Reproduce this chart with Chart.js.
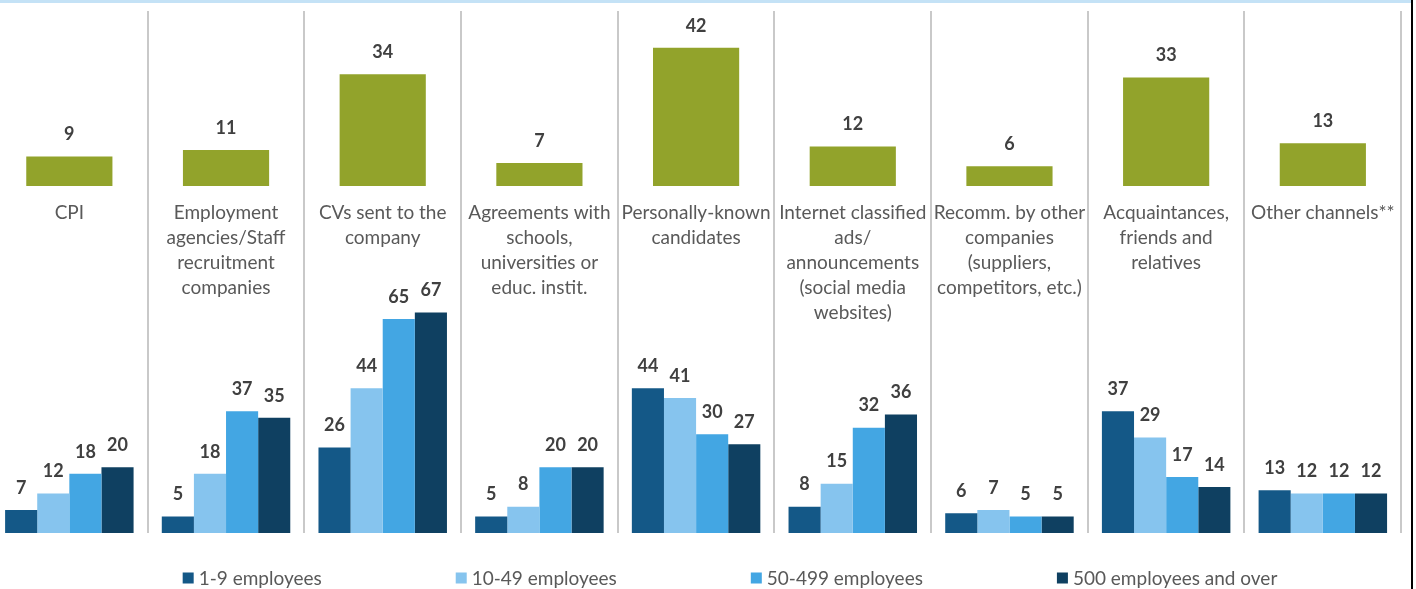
<!DOCTYPE html>
<html>
<head>
<meta charset="utf-8">
<script src="https://cdn.jsdelivr.net/npm/chart.js@4/dist/chart.umd.min.js"></script>
<style>
html, body { margin: 0; padding: 0; background: #ffffff; overflow: hidden; width: 1416px; height: 589px; }
#wrap { position: absolute; left: -9px; top: 0; width: 1418px; height: 589px; }
#band { position: absolute; left: 0; top: 0; width: 1411px; height: 3px; background: #c4e2f6; }
#edge { position: absolute; left: 1411px; top: 0; width: 2px; height: 589px; background: #000000; }
</style>
</head>
<body>
<div id="wrap"><canvas id="chart"></canvas></div>
<div id="band"></div>
<div id="edge"></div>
<script>
// ---- Data ----
const categories = [
  ["CPI"],
  ["Employment", "agencies/Staff", "recruitment", "companies"],
  ["CVs sent to the", "company"],
  ["Agreements with", "schools,", "universities or", "educ. instit."],
  ["Personally-known", "candidates"],
  ["Internet classified", "ads/", "announcements", "(social media", "websites)"],
  ["Recomm. by other", "companies", "(suppliers,", "competitors, etc.)"],
  ["Acquaintances,", "friends and", "relatives"],
  ["Other channels**"]
];
const totalLabel = "Total";
const totalValues = [9, 11, 34, 7, 42, 12, 6, 33, 13];
const sizeLabels = ["1-9 employees", "10-49 employees", "50-499 employees", "500 employees and over"];
const size1to9 = [7, 5, 26, 5, 44, 8, 6, 37, 13];
const size10to49 = [12, 18, 44, 8, 41, 15, 7, 29, 12];
const size50to499 = [18, 37, 65, 20, 30, 32, 5, 17, 12];
const size500plus = [20, 35, 67, 20, 27, 36, 5, 14, 12];

// ---- Styles ----
const GREEN = '#92a32b';
const sizeColors = ['#145887', '#86c4ee', '#43a6e3', '#0f4061'];
const TEXT_GREY = '#595959';
const LABEL_DARK = '#404040';
const FONT = 'Lato, "Open Sans", sans-serif';

const sizeSeries = [size1to9, size10to49, size50to499, size500plus];

const valueLabelPlugin = {
  id: 'valueLabels',
  afterDatasetsDraw(chart) {
    const ctx = chart.ctx;
    ctx.save();
    ctx.font = 'bold 18px ' + FONT;
    ctx.fillStyle = LABEL_DARK;
    ctx.textAlign = 'center';
    ctx.textBaseline = 'middle';
    chart.data.datasets.forEach((ds, di) => {
      const meta = chart.getDatasetMeta(di);
      meta.data.forEach((el, i) => {
        ctx.fillText(String(ds.data[i]), el.x, el.y - 22);
      });
    });
    ctx.restore();
  }
};

const legendPlugin = {
  id: 'customLegend',
  afterDraw(chart) {
    const ctx = chart.ctx;
    ctx.save();
    ctx.font = '19px ' + FONT;
    ctx.textBaseline = 'middle';
    ctx.textAlign = 'left';
    const box = 11, gapText = 5, gapItem = 134;
    const items = chart.data.datasets.filter(d => d.inLegend);
    const widths = items.map(d => box + gapText + ctx.measureText(d.label).width);
    const total = widths.reduce((a, b) => a + b, 0) + gapItem * (items.length - 1);
    let x = 739 - total / 2;
    const y = 578;
    items.forEach((d, i) => {
      ctx.fillStyle = d.backgroundColor;
      ctx.fillRect(x, y - box / 2, box, box);
      ctx.fillStyle = TEXT_GREY;
      ctx.fillText(d.label, x + box + gapText, y + 1);
      x += widths[i] + gapItem;
    });
    ctx.restore();
  }
};

const datasets = [
  {
    label: totalLabel,
    data: totalValues,
    backgroundColor: GREEN,
    yAxisID: 'yTop',
    grouped: false,
    categoryPercentage: 0.55,
    barPercentage: 1.0,
    inLegend: false
  }
].concat(sizeSeries.map((vals, k) => ({
  label: sizeLabels[k],
  data: vals,
  backgroundColor: sizeColors[k],
  yAxisID: 'yBottom',
  categoryPercentage: 0.82,
  barPercentage: 1.0,
  inLegend: true
})));

new Chart(document.getElementById('chart'), {
  type: 'bar',
  data: { labels: categories, datasets: datasets },
  plugins: [valueLabelPlugin, legendPlugin],
  options: {
    responsive: true,
    maintainAspectRatio: false,
    animation: false,
    devicePixelRatio: 1,
    layout: { padding: { top: 11, bottom: 56, left: 0, right: 0 } },
    plugins: { legend: { display: false }, tooltip: { enabled: false } },
    scales: {
      x: {
        type: 'category',
        position: 'bottom',
        offset: true,
        ticks: { display: false },
        border: { display: false },
        grid: {
          offset: true,
          drawTicks: false,
          lineWidth: 2,
          color: (c) => (c.index === 0 || c.index === categories.length) ? 'rgba(0,0,0,0)' : '#c9c9c9'
        }
      },
      x2: {
        type: 'category',
        position: { yTop: 0 },
        offset: true,
        border: { display: false },
        grid: { display: false, drawTicks: false },
        ticks: {
          autoSkip: false,
          maxRotation: 0,
          minRotation: 0,
          padding: 14,
          color: TEXT_GREY,
          font: { family: FONT, size: 19, lineHeight: 25 / 19 }
        }
      },
      yTop: {
        type: 'linear',
        position: 'left',
        stack: 'panels',
        stackWeight: 1,
        weight: 1,
        min: -26.1,
        max: 53.2,
        display: false
      },
      yBottom: {
        type: 'linear',
        position: 'left',
        stack: 'panels',
        stackWeight: 1,
        weight: 0,
        min: 0,
        max: 79.3,
        display: false
      }
    }
  }
});
</script>
</body>
</html>
